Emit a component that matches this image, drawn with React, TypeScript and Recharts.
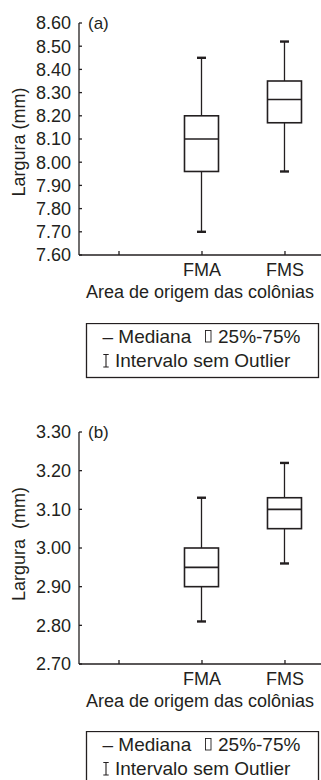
import { ComposedChart, Bar, XAxis, YAxis, Label } from 'recharts';

// categories on the x axis (first tick is an empty slot)
const categories = ['FMA', 'FMS'];
const xTicks = [0, 1, 2];

// (a) largura ~ 8 mm
const minA = [7.7, 7.96];
const q1A = [7.96, 8.17];
const medA = [8.1, 8.27];
const q3A = [8.2, 8.35];
const maxA = [8.45, 8.52];
const yTicksA = [7.6, 7.7, 7.8, 7.9, 8.0, 8.1, 8.2, 8.3, 8.4, 8.5, 8.6];

// (b) largura ~ 3 mm
const minB = [2.81, 2.96];
const q1B = [2.9, 3.05];
const medB = [2.95, 3.1];
const q3B = [3.0, 3.13];
const maxB = [3.13, 3.22];
const yTicksB = [2.7, 2.8, 2.9, 3.0, 3.1, 3.2, 3.3];

const xTitle = 'Area de origem das colônias';
const legendMedian = '– Mediana';
const legendBox = '25%-75%';
const legendRange = 'Intervalo sem Outlier';

const INK = '#231f20';
const FONT = '"Liberation Sans", Arial, Helvetica, sans-serif';

function buildData(min: number[], q1: number[], med: number[], q3: number[], max: number[]) {
  return categories.map((name, i) => ({
    pos: i + 1,
    name,
    min: min[i],
    q1: q1[i],
    median: med[i],
    q3: q3[i],
    max: max[i],
  }));
}

const dataA = buildData(minA, q1A, medA, q3A, maxA);
const dataB = buildData(minB, q1B, medB, q3B, maxB);

// whole box drawn from the whisker range bar; inner values mapped on the same scale
function BoxShape(props: any) {
  const { x, y, width, height, payload } = props;
  const { min, q1, median, q3, max } = payload;
  const toY = (v: number) => y + ((max - v) / (max - min)) * height;
  const cx = x + width / 2;
  const cap = 4.5;
  return (
    <g>
      <line x1={cx} x2={cx} y1={toY(max)} y2={toY(q3)} stroke={INK} strokeWidth={1.3} />
      <line x1={cx} x2={cx} y1={toY(q1)} y2={toY(min)} stroke={INK} strokeWidth={1.3} />
      <line x1={cx - cap} x2={cx + cap} y1={toY(max)} y2={toY(max)} stroke={INK} strokeWidth={2.4} />
      <line x1={cx - cap} x2={cx + cap} y1={toY(min)} y2={toY(min)} stroke={INK} strokeWidth={2.4} />
      <rect x={x} y={toY(q3)} width={width} height={toY(q1) - toY(q3)} fill="#fff" stroke={INK} strokeWidth={1.6} />
      <line x1={x} x2={x + width} y1={toY(median)} y2={toY(median)} stroke={INK} strokeWidth={1.6} />
    </g>
  );
}

function Panel({ data, ticks, tag, yTitle, titleShift }: any) {
  return (
    <ComposedChart width={321} height={310} data={data} margin={{ top: 23, right: 0, bottom: 10, left: 0 }}>
      <XAxis
        type="number"
        dataKey="pos"
        domain={[-0.482, 2.434]}
        ticks={xTicks}
        interval={0}
        allowDataOverflow
        tickFormatter={(v: number) => categories[v - 1] ?? ''}
        tickSize={-4}
        tickMargin={12}
        height={45}
        stroke={INK}
        strokeWidth={1.3}
        tick={{ fill: INK, fontSize: 18, fontFamily: FONT }}
      >
        <Label
          content={(p: any) => (
            <text
              x={p.viewBox.x + p.viewBox.width / 2}
              y={p.viewBox.y + 43}
              textAnchor="middle"
              fill={INK}
              fontSize={18}
              fontFamily={FONT}
            >
              {xTitle}
            </text>
          )}
        />
      </XAxis>
      <YAxis
        type="number"
        domain={[ticks[0], ticks[ticks.length - 1]]}
        ticks={ticks}
        interval={0}
        allowDataOverflow
        width={79}
        tickSize={-3}
        tickMargin={11}
        tickFormatter={(v: number) => v.toFixed(2)}
        stroke={INK}
        strokeWidth={1.3}
        tick={{ fill: INK, fontSize: 18, fontFamily: FONT }}
      >
        <Label
          content={(p: any) => (
            <text x={p.viewBox.x + p.viewBox.width + 9} y={p.viewBox.y + 5.5} fill={INK} fontSize={17} fontFamily={FONT}>
              {tag}
            </text>
          )}
        />
        <Label
          content={(p: any) => {
            const cx = 24.6;
            const cy = p.viewBox.y + p.viewBox.height / 2 + titleShift;
            return (
              <text
                x={cx}
                y={cy}
                transform={`rotate(-90, ${cx}, ${cy})`}
                textAnchor="middle"
                fill={INK}
                fontSize={18}
                fontFamily={FONT}
                style={{ whiteSpace: 'pre' }}
              >
                {yTitle}
              </text>
            );
          }}
        />
      </YAxis>
      <Bar dataKey={(d: any) => [d.min, d.max]} barSize={34} shape={BoxShape} isAnimationActive={false} />
    </ComposedChart>
  );
}

function LegendBox({ top }: { top: number }) {
  const t = { fill: INK, fontSize: 19, fontFamily: FONT };
  return (
    <svg style={{ position: 'absolute', left: 0, top }} width={321} height={60}>
      <rect x={86.5} y={0.5} width={232} height={54} fill="none" stroke={INK} strokeWidth={1.3} />
      <text x={102.5} y={19.5} {...t}>{legendMedian}</text>
      <rect x={205.5} y={7.5} width={5.5} height={11.5} fill="none" stroke={INK} strokeWidth={0.9} />
      <text x={218} y={19.5} {...t}>{legendBox}</text>
      <path d="M103.3 31.5 H108.7 M106 31.5 V44 M103.3 44 H108.7" stroke={INK} strokeWidth={1.1} fill="none" />
      <text x={115} y={44.4} {...t}>{legendRange}</text>
    </svg>
  );
}

export default function App() {
  return (
    <div style={{ position: 'absolute', left: 0, top: 0, width: 321, height: 780, background: '#fff', overflow: 'hidden' }}>
      <div style={{ position: 'absolute', left: 0, top: 0 }}>
        <Panel data={dataA} ticks={yTicksA} tag="(a)" yTitle="Largura (mm)" titleShift={3} />
      </div>
      <LegendBox top={322.5} />
      <div style={{ position: 'absolute', left: 0, top: 409 }}>
        <Panel data={dataB} ticks={yTicksB} tag="(b)" yTitle="Largura  (mm)" titleShift={-4} />
      </div>
      <LegendBox top={730.5} />
    </div>
  );
}
